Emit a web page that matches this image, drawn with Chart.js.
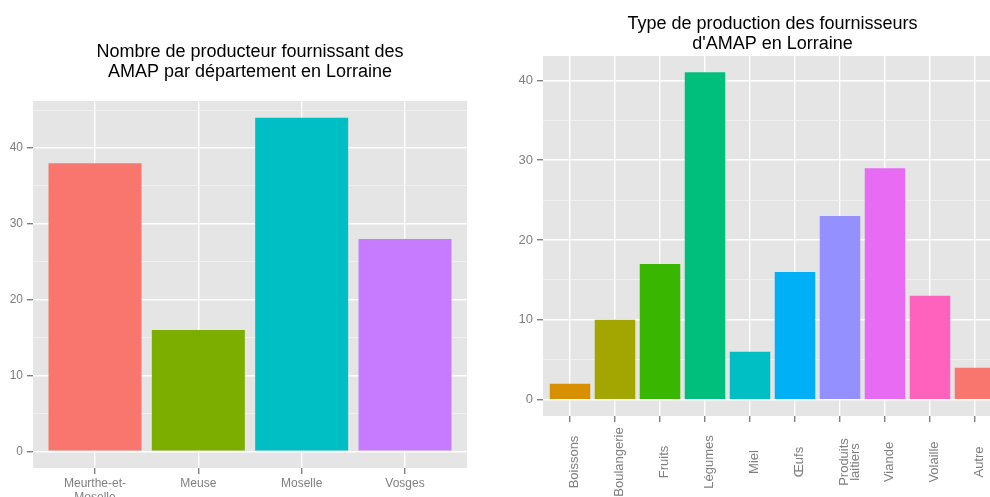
<!DOCTYPE html>
<html>
<head>
<meta charset="utf-8">
<script src="https://cdn.jsdelivr.net/npm/chart.js@4.4.1/dist/chart.umd.min.js"></script>
<style>
    html, body { margin: 0; padding: 0; background: #fff; overflow: hidden; width: 990px; height: 497px; }
    #dept-chart { position: absolute; left: 0; top: 0; }
    #prod-chart { position: absolute; left: 495px; top: 0; }
</style>
</head>
<body>
<canvas id="dept-chart" width="500" height="497"></canvas>
<canvas id="prod-chart" width="555" height="497"></canvas>
<script>
/* ===== DATA ===== */
const deptLabels = [['Meurthe-et-', 'Moselle'], 'Meuse', 'Moselle', 'Vosges'];
const deptValues = [38, 16, 44, 28];
const deptColors = ['#F8766D', '#7CAE00', '#00BFC4', '#C77CFF'];
const deptTicks = [0, 5, 10, 15, 20, 25, 30, 35, 40, 45];

const prodLabels = ['Boissons', 'Boulangerie', 'Fruits', 'Légumes', 'Miel', 'Œufs',
    ['Produits', 'laitiers'], 'Viande', 'Volaille', 'Autre'];
const prodValues = [2, 10, 17, 41, 6, 16, 23, 29, 13, 4];
const prodColors = ['#D89000', '#A3A500', '#39B600', '#00BF7D', '#00BFC4',
    '#00B0F6', '#9590FF', '#E76BF3', '#FF62BC', '#F8766D'];
const prodTicks = [0, 5, 10, 15, 20, 25, 30, 35, 40];

/* ===== STYLE ===== */
const FONT = '"Liberation Sans", Arial, sans-serif';
const GREY = '#7F7F7F';
Chart.defaults.font.family = FONT;

const isMajor = v => v % 10 === 0;

// grey ggplot panel behind the grid
const panelBg = {
    id: 'panelBg',
    beforeDraw(chart) {
        const { ctx, chartArea: a } = chart;
        ctx.save();
        ctx.fillStyle = '#E5E5E5';
        ctx.fillRect(a.left, a.top, a.right - a.left, a.bottom - a.top);
        ctx.restore();
    }
};

// vertical, centred x labels (ggplot angle = 90)
const rotLabels = {
    id: 'rotLabels',
    afterDraw(chart) {
        const s = chart.scales.x;
        const ctx = chart.ctx;
        ctx.save();
        ctx.fillStyle = GREY;
        ctx.font = '13px ' + FONT;
        ctx.textAlign = 'center';
        ctx.textBaseline = 'middle';
        prodLabels.forEach((lab, i) => {
            const lines = [].concat(lab);
            const x = s.getPixelForValue(i);
            lines.forEach((t, j) => {
                ctx.save();
                ctx.translate(x + 4 + j * 11, chart.chartArea.bottom + 46);
                ctx.rotate(-Math.PI / 2);
                ctx.fillText(t, 0, 0);
                ctx.restore();
            });
        });
        ctx.restore();
    }
};

function makeChart(id, cfg) {
    const max = Math.max(...cfg.values);
    const n = cfg.values.length;
    return new Chart(document.getElementById(id), {
        type: 'bar',
        data: {
            datasets: [{
                data: cfg.values.map((v, i) => ({ x: i, y: v })),
                backgroundColor: cfg.colors,
                borderWidth: 0,
                barPercentage: 0.9,
                categoryPercentage: 1.0
            }]
        },
        options: {
            responsive: false,
            animation: false,
            layout: { padding: 0 },
            plugins: {
                legend: { display: false },
                tooltip: { enabled: false },
                title: {
                    display: true,
                    text: cfg.title,
                    color: '#000',
                    font: { family: FONT, size: 18, weight: 'normal', lineHeight: '20px' },
                    padding: cfg.titlePad
                }
            },
            scales: {
                x: {
                    type: 'linear',
                    offset: false,
                    bounds: 'data',
                    min: -0.6,
                    max: n - 0.4,
                    afterBuildTicks: s => { s.ticks = cfg.values.map((_, i) => ({ value: i })); },
                    afterFit: s => { s.height = cfg.xHeight; },
                    border: { display: false },
                    grid: { offset: false, color: '#FFFFFF', lineWidth: 1.4, tickColor: GREY, tickLength: 6 },
                    ticks: {
                        display: cfg.xTicks,
                        autoSkip: false,
                        maxRotation: 0,
                        padding: 2,
                        color: GREY,
                        font: { size: 12 },
                        callback: v => cfg.labels[v]
                    }
                },
                y: {
                    bounds: 'data',
                    min: -0.05 * max,
                    max: 1.05 * max,
                    afterBuildTicks: s => { s.ticks = cfg.ticks.map(v => ({ value: v })); },
                    afterFit: s => { s.width = cfg.pad; },
                    border: { display: false },
                    grid: {
                        color: c => isMajor(c.tick.value) ? '#FFFFFF' : '#F2F2F2',
                        lineWidth: c => isMajor(c.tick.value) ? 1.4 : 0.8,
                        tickColor: c => isMajor(c.tick.value) ? GREY : 'rgba(0,0,0,0)',
                        tickLength: 6
                    },
                    ticks: {
                        padding: 4,
                        color: GREY,
                        font: { size: cfg.yFont },
                        callback: v => isMajor(v) ? v : ''
                    }
                },
                // empty right-hand axis, same width as the y axis, keeps the title centred on the panel
                yspace: {
                    position: 'right',
                    display: true,
                    border: { display: false },
                    grid: { display: false, drawTicks: false },
                    ticks: { display: false },
                    afterFit: s => { s.width = cfg.pad; }
                }
            }
        },
        plugins: cfg.xTicks ? [panelBg] : [panelBg, rotLabels]
    });
}

makeChart('dept-chart', {
    values: deptValues, colors: deptColors, labels: deptLabels, ticks: deptTicks,
    title: ['Nombre de producteur fournissant des', 'AMAP par département en Lorraine'],
    titlePad: { top: 42, bottom: 19 },
    pad: 33, xHeight: 29, xTicks: true, yFont: 12
});

makeChart('prod-chart', {
    values: prodValues, colors: prodColors, labels: prodLabels, ticks: prodTicks,
    title: ['Type de production des fournisseurs', "d'AMAP en Lorraine"],
    titlePad: { top: 14, bottom: 2 },
    pad: 48, xHeight: 81, xTicks: false, yFont: 13
});
</script>
</body>
</html>
